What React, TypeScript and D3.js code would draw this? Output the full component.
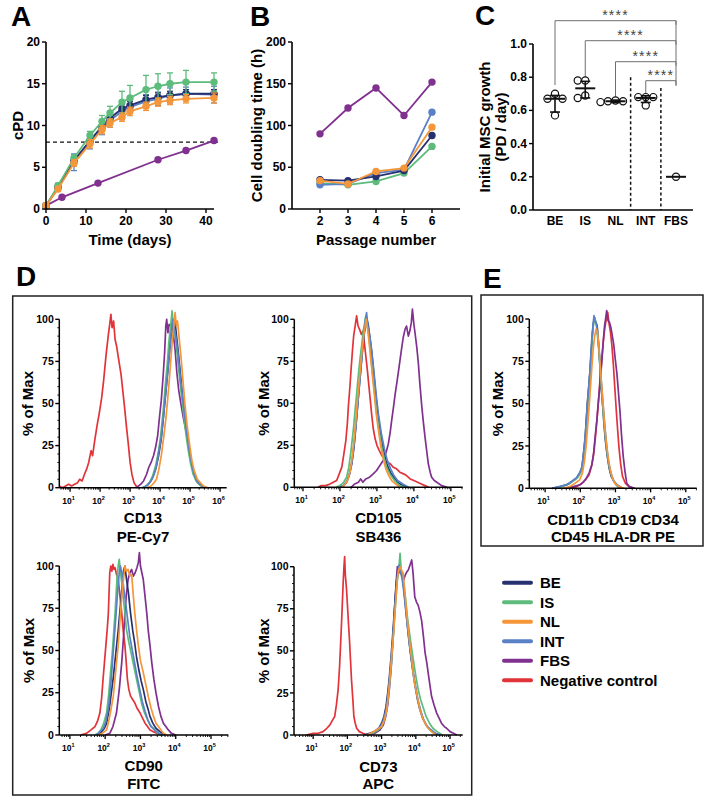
import React from "react";
import * as d3 from "d3";

const FONT = "'Liberation Sans', Arial, Helvetica, sans-serif";

const COL = {
  BE: "#27316f",
  IS: "#5dbb7b",
  NL: "#f5963a",
  INT: "#5a80c6",
  FBS: "#80308f",
  NEG: "#e1343a",
};

// ---------- panel A: cumulative population doublings ----------
const daysA = [0, 3, 7, 11, 14, 16, 19, 21, 25, 28, 31, 35, 42];
const cpdBE = [0.4, 2.6, 5.8, 8.2, 9.9, 10.9, 12.0, 12.4, 13.1, 13.4, 13.6, 13.8, 13.8];
const cpdIS = [0.4, 2.8, 6.1, 8.8, 10.5, 11.5, 12.8, 13.3, 14.3, 14.7, 15.0, 15.2, 15.2];
const cpdNL = [0.4, 2.4, 5.5, 7.8, 9.5, 10.3, 11.0, 11.7, 12.3, 12.8, 13.0, 13.2, 13.3];
const cpdINT = [0.4, 2.5, 5.6, 8.0, 9.7, 10.6, 11.7, 12.2, 12.9, 13.2, 13.6, 13.8, 13.7];
const sdBE = [0, 0.2, 0.4, 0.4, 0.4, 0.4, 0.5, 0.5, 0.5, 0.5, 0.5, 0.5, 0.5];
const sdIS = [0, 0.3, 0.4, 0.5, 0.7, 0.8, 1.3, 1.5, 1.7, 1.5, 1.3, 1.4, 1.1];
const sdNL = [0, 0.3, 0.4, 0.5, 0.5, 0.5, 0.5, 0.5, 0.5, 0.5, 0.5, 0.5, 0.6];
const sdINT = [0, 0.3, 1.0, 0.8, 0.8, 0.8, 1.0, 1.0, 0.8, 0.8, 0.9, 0.8, 1.0];
const daysFBS = [0, 4, 13, 28, 35, 42];
const cpdFBS = [0.4, 1.4, 3.1, 5.9, 7.0, 8.2];
const cpdThreshold = 8;

// ---------- panel B: doubling time per passage ----------
const passages = [2, 3, 4, 5, 6];
const dtBE = [35, 34, 39, 46, 88];
const dtIS = [31, 29, 33, 43, 75];
const dtNL = [34, 30, 45, 49, 98];
const dtINT = [29, 30, 43, 47, 116];
const dtFBS = [90, 121, 145, 112, 152];

// ---------- panel C: initial growth ----------
const groupsC = ["BE", "IS", "NL", "INT", "FBS"];
const growthBE = [0.70, 0.67, 0.67, 0.57];
const growthIS = [0.78, 0.78, 0.69, 0.675];
const growthNL = [0.655, 0.66, 0.655, 0.65];
const growthINT = [0.68, 0.68, 0.68, 0.63];
const growthFBS = [0.2];
const growthMid = [0.67, 0.733, 0.655, 0.675, 0.2];
const growthLo = [0.59, 0.675, 0.648, 0.648, 0.2];
const growthHi = [0.69, 0.775, 0.662, 0.688, 0.2];
const sigGroups = ["BE", "IS", "NL", "INT"];
const sigLabel = "****";

// ---------- panels D/E: flow histograms, [log10 intensity, % of max] ----------
type Pt = [number, number];

const cd13Neg: Pt[] = [[0.64,1],[0.75,0],[0.85,1],[0.95,2],[1.05,1],[1.15,2],[1.25,3],[1.32,5],[1.4,4],[1.48,8],[1.55,11],[1.62,15],[1.7,22],[1.75,19],[1.82,28],[1.9,37],[1.97,44],[2.05,53],[2.12,64],[2.2,79],[2.27,90],[2.32,97],[2.36,103],[2.4,95],[2.45,99],[2.5,88],[2.55,84],[2.62,76],[2.7,67],[2.76,57],[2.82,47],[2.88,36],[2.94,26],[3.0,15],[3.06,8],[3.13,3],[3.2,1],[3.3,0]];
const cd13FBS: Pt[] = [[3.2,0],[3.35,2],[3.45,4],[3.55,8],[3.62,12],[3.7,15],[3.78,19],[3.85,24],[3.92,31],[3.98,42],[4.04,52],[4.1,66],[4.15,80],[4.19,96],[4.22,100],[4.26,92],[4.3,97],[4.36,96],[4.43,93],[4.5,82],[4.56,68],[4.62,58],[4.7,49],[4.78,41],[4.86,34],[4.94,25],[5.02,17],[5.1,10],[5.2,5],[5.3,3],[5.4,1],[5.55,0]];
const cd13BE: Pt[] = [[3.4,0],[3.55,1],[3.65,3],[3.75,6],[3.85,11],[3.95,19],[4.03,28],[4.1,40],[4.18,55],[4.25,68],[4.32,82],[4.38,93],[4.42,99],[4.46,96],[4.5,98],[4.56,88],[4.62,78],[4.68,67],[4.75,54],[4.82,42],[4.9,31],[4.98,21],[5.06,13],[5.15,7],[5.25,3],[5.38,1],[5.5,0]];
const cd13IS: Pt[] = [[3.4,0],[3.55,1],[3.65,3],[3.75,7],[3.85,13],[3.95,22],[4.02,31],[4.1,45],[4.17,60],[4.24,74],[4.3,88],[4.35,96],[4.4,105],[4.44,97],[4.5,91],[4.56,81],[4.62,70],[4.7,57],[4.78,44],[4.86,32],[4.94,22],[5.02,14],[5.1,8],[5.2,4],[5.3,2],[5.45,0]];
const cd13INT: Pt[] = [[3.45,0],[3.6,2],[3.7,4],[3.8,8],[3.88,13],[3.96,22],[4.04,30],[4.12,44],[4.2,59],[4.28,74],[4.35,88],[4.4,97],[4.44,100],[4.48,94],[4.54,88],[4.6,79],[4.66,68],[4.72,58],[4.8,46],[4.88,34],[4.96,24],[5.04,15],[5.12,9],[5.22,4],[5.34,2],[5.5,0]];
const cd13NL: Pt[] = [[3.55,0],[3.7,1],[3.8,3],[3.88,5],[3.96,11],[4.04,19],[4.12,30],[4.2,42],[4.28,58],[4.34,72],[4.4,86],[4.45,95],[4.5,104],[4.54,96],[4.58,99],[4.64,88],[4.7,77],[4.76,64],[4.82,51],[4.9,37],[4.98,26],[5.06,16],[5.14,10],[5.24,5],[5.34,3],[5.45,1],[5.6,0]];

const cd105Neg: Pt[] = [[1.4,0],[1.5,1],[1.62,1],[1.73,2],[1.82,3],[1.91,4],[1.98,8],[2.05,12],[2.1,19],[2.16,28],[2.2,38],[2.23,49],[2.27,60],[2.3,70],[2.34,82],[2.37,90],[2.41,96],[2.45,102],[2.49,96],[2.53,94],[2.58,91],[2.62,93],[2.66,86],[2.7,78],[2.74,70],[2.78,61],[2.82,52],[2.86,43],[2.9,35],[2.95,29],[3.0,25],[3.06,22],[3.13,19],[3.2,17],[3.28,15],[3.36,14],[3.44,12],[3.53,11],[3.62,9],[3.72,8],[3.8,7],[3.9,5],[4.0,4],[4.1,3],[4.2,2],[4.3,1],[4.4,0]];
const cd105FBS: Pt[] = [[2.3,0],[2.4,2],[2.5,3],[2.56,5],[2.62,3],[2.7,5],[2.8,6],[2.9,8],[2.99,10],[3.08,13],[3.17,16],[3.25,21],[3.31,26],[3.36,33],[3.4,40],[3.45,48],[3.49,55],[3.55,64],[3.62,75],[3.67,83],[3.71,89],[3.76,94],[3.8,96],[3.85,90],[3.89,93],[3.93,98],[3.96,106],[4.0,97],[4.03,92],[4.08,83],[4.12,74],[4.16,62],[4.21,49],[4.25,40],[4.3,30],[4.35,21],[4.39,14],[4.44,9],[4.48,6],[4.55,4],[4.62,3],[4.75,1],[4.9,0]];
const cd105IS: Pt[] = [[1.9,0],[2.0,1],[2.1,3],[2.18,6],[2.24,12],[2.29,20],[2.32,26],[2.37,36],[2.41,46],[2.45,55],[2.49,65],[2.54,76],[2.59,85],[2.63,93],[2.67,98],[2.7,102],[2.74,96],[2.78,90],[2.81,84],[2.85,75],[2.9,64],[2.95,54],[2.99,45],[3.05,35],[3.13,24],[3.2,17],[3.26,12],[3.35,8],[3.44,5],[3.52,3],[3.62,1],[3.75,0]];
const cd105BE: Pt[] = [[2.0,0],[2.1,1],[2.18,3],[2.25,7],[2.32,14],[2.38,24],[2.43,36],[2.48,49],[2.53,62],[2.58,74],[2.62,84],[2.66,92],[2.7,97],[2.73,100],[2.77,96],[2.81,89],[2.86,80],[2.91,69],[2.96,57],[3.01,46],[3.07,36],[3.14,26],[3.21,19],[3.28,13],[3.36,9],[3.45,6],[3.55,3],[3.7,1],[3.85,0]];
const cd105INT: Pt[] = [[2.0,0],[2.1,1],[2.2,4],[2.27,9],[2.33,16],[2.39,27],[2.44,39],[2.49,52],[2.54,64],[2.58,75],[2.62,85],[2.66,94],[2.69,100],[2.72,104],[2.75,97],[2.79,92],[2.84,85],[2.89,75],[2.94,64],[2.99,53],[3.05,42],[3.12,32],[3.2,23],[3.28,16],[3.37,11],[3.46,7],[3.56,4],[3.7,2],[3.85,0]];
const cd105NL: Pt[] = [[2.05,0],[2.15,2],[2.22,5],[2.28,10],[2.33,18],[2.38,28],[2.43,40],[2.47,51],[2.52,63],[2.56,73],[2.6,82],[2.64,90],[2.68,96],[2.71,100],[2.75,94],[2.79,86],[2.83,77],[2.88,66],[2.93,55],[2.98,44],[3.04,34],[3.1,25],[3.17,17],[3.24,11],[3.32,7],[3.4,4],[3.5,2],[3.62,0]];

const cd90Neg: Pt[] = [[1.3,0],[1.47,1],[1.6,3],[1.71,5],[1.78,8],[1.85,13],[1.9,22],[1.94,33],[1.98,43],[2.02,53],[2.06,63],[2.09,72],[2.11,84],[2.13,96],[2.16,100],[2.19,97],[2.22,101],[2.25,98],[2.28,99],[2.32,95],[2.37,92],[2.42,82],[2.47,72],[2.51,62],[2.56,53],[2.6,42],[2.63,33],[2.67,27],[2.72,23],[2.78,21],[2.84,19],[2.9,16],[2.99,13],[3.06,10],[3.13,7],[3.2,5],[3.27,3],[3.36,2],[3.46,1],[3.6,0]];
const cd90IS: Pt[] = [[1.7,0],[1.8,1],[1.88,3],[1.96,7],[2.04,13],[2.1,24],[2.15,36],[2.2,48],[2.24,60],[2.28,72],[2.31,83],[2.34,94],[2.37,100],[2.4,104],[2.43,97],[2.47,90],[2.51,82],[2.56,72],[2.6,63],[2.67,55],[2.75,47],[2.82,40],[2.89,33],[2.96,26],[3.03,19],[3.1,14],[3.18,10],[3.27,6],[3.37,4],[3.48,1],[3.6,0]];
const cd90BE: Pt[] = [[1.8,0],[1.9,2],[1.98,4],[2.04,7],[2.12,16],[2.18,26],[2.23,34],[2.3,48],[2.37,62],[2.43,76],[2.48,88],[2.52,97],[2.56,100],[2.6,93],[2.66,84],[2.72,72],[2.78,62],[2.84,54],[2.89,46],[2.96,38],[3.02,32],[3.08,27],[3.15,20],[3.22,15],[3.27,11],[3.35,7],[3.44,4],[3.55,2],[3.7,0]];
const cd90INT: Pt[] = [[1.75,0],[1.85,2],[1.95,4],[2.02,8],[2.1,17],[2.16,30],[2.21,44],[2.26,58],[2.31,72],[2.35,84],[2.39,94],[2.43,100],[2.47,96],[2.52,88],[2.58,78],[2.64,68],[2.7,58],[2.77,50],[2.84,42],[2.91,34],[2.98,27],[3.05,20],[3.13,14],[3.21,9],[3.3,5],[3.4,3],[3.52,1],[3.65,0]];
const cd90NL: Pt[] = [[1.8,0],[1.92,1],[2.04,3],[2.12,10],[2.18,17],[2.23,23],[2.3,38],[2.37,53],[2.42,68],[2.47,82],[2.52,92],[2.56,100],[2.6,97],[2.65,98],[2.7,94],[2.75,95],[2.8,82],[2.84,72],[2.89,62],[2.94,53],[3.0,44],[3.08,37],[3.15,30],[3.22,23],[3.3,16],[3.37,11],[3.44,7],[3.51,5],[3.58,3],[3.65,1],[3.75,0]];
const cd90FBS: Pt[] = [[2.0,0],[2.13,1],[2.22,5],[2.32,13],[2.4,27],[2.47,43],[2.52,58],[2.56,72],[2.6,83],[2.65,92],[2.7,96],[2.75,98],[2.8,94],[2.85,96],[2.9,99],[2.94,102],[2.97,108],[3.0,100],[3.04,96],[3.08,92],[3.13,82],[3.18,72],[3.22,62],[3.27,53],[3.32,43],[3.38,33],[3.44,25],[3.51,17],[3.58,11],[3.65,7],[3.72,5],[3.79,3],[3.88,1],[4.0,0]];

const cd73Neg: Pt[] = [[0.8,0],[1.0,1],[1.15,1],[1.29,2],[1.4,4],[1.49,6],[1.57,9],[1.63,11],[1.68,18],[1.73,27],[1.77,40],[1.8,53],[1.83,67],[1.86,82],[1.88,92],[1.9,100],[1.92,106],[1.94,95],[1.97,88],[2.0,78],[2.03,67],[2.06,57],[2.09,45],[2.12,33],[2.16,21],[2.19,11],[2.23,7],[2.27,4],[2.35,2],[2.45,1],[2.6,0]];
const cd73BE: Pt[] = [[2.5,0],[2.65,1],[2.8,2],[2.92,4],[3.0,7],[3.07,11],[3.13,17],[3.18,25],[3.23,35],[3.28,47],[3.32,58],[3.36,70],[3.4,82],[3.44,92],[3.48,98],[3.52,100],[3.56,98],[3.6,95],[3.65,87],[3.7,77],[3.75,66],[3.8,56],[3.86,46],[3.92,37],[3.98,29],[4.05,21],[4.12,15],[4.2,10],[4.3,6],[4.42,3],[4.55,1],[4.7,0]];
const cd73IS: Pt[] = [[2.6,0],[2.75,1],[2.9,3],[3.0,5],[3.08,9],[3.15,16],[3.2,24],[3.25,34],[3.3,46],[3.34,58],[3.38,70],[3.42,82],[3.46,92],[3.5,98],[3.54,108],[3.57,99],[3.61,95],[3.66,88],[3.71,79],[3.76,69],[3.82,60],[3.88,51],[3.94,43],[4.0,35],[4.07,27],[4.14,21],[4.22,16],[4.3,11],[4.4,7],[4.5,4],[4.62,2],[4.78,0]];
const cd73INT: Pt[] = [[2.55,0],[2.7,1],[2.85,3],[2.96,5],[3.04,8],[3.11,13],[3.17,20],[3.22,30],[3.27,41],[3.31,52],[3.35,64],[3.39,76],[3.43,88],[3.47,96],[3.51,101],[3.55,97],[3.6,93],[3.65,85],[3.7,75],[3.76,64],[3.82,53],[3.88,44],[3.94,35],[4.0,28],[4.07,20],[4.15,14],[4.23,9],[4.33,5],[4.45,3],[4.58,1],[4.72,0]];
const cd73NL: Pt[] = [[2.6,0],[2.68,1],[2.85,3],[3.0,5],[3.08,9],[3.15,15],[3.2,24],[3.24,33],[3.28,43],[3.32,53],[3.36,63],[3.39,73],[3.43,84],[3.46,93],[3.5,98],[3.54,100],[3.58,98],[3.63,96],[3.68,85],[3.73,73],[3.78,63],[3.83,53],[3.88,45],[3.92,37],[3.97,30],[4.02,25],[4.07,20],[4.12,15],[4.2,10],[4.27,7],[4.36,4],[4.46,2],[4.58,0]];
const cd73FBS: Pt[] = [[2.6,0],[2.8,1],[2.95,3],[3.05,6],[3.12,11],[3.18,18],[3.23,28],[3.28,40],[3.32,53],[3.36,66],[3.39,79],[3.43,92],[3.46,100],[3.5,96],[3.55,98],[3.6,94],[3.64,92],[3.69,95],[3.74,97],[3.78,98],[3.83,101],[3.88,104],[3.92,96],[3.97,82],[4.02,79],[4.07,77],[4.12,73],[4.17,68],[4.22,59],[4.27,49],[4.32,43],[4.36,37],[4.41,30],[4.46,23],[4.53,18],[4.61,13],[4.68,10],[4.75,7],[4.83,5],[4.9,4],[5.0,2],[5.1,1],[5.2,0]];

const hemBE: Pt[] = [[1.2,0],[1.43,1],[1.6,2],[1.71,3],[1.82,5],[1.9,6],[1.98,9],[2.04,11],[2.09,20],[2.14,30],[2.17,40],[2.2,50],[2.24,60],[2.28,70],[2.31,80],[2.34,90],[2.37,97],[2.4,101],[2.44,98],[2.48,96],[2.51,88],[2.54,79],[2.57,68],[2.6,58],[2.64,48],[2.67,39],[2.71,29],[2.76,20],[2.82,12],[2.88,7],[2.96,4],[3.05,2],[3.2,0]];
const hemIS: Pt[] = [[1.3,0],[1.5,1],[1.7,3],[1.85,5],[1.95,7],[2.03,10],[2.1,19],[2.15,30],[2.19,42],[2.22,52],[2.26,63],[2.3,75],[2.33,86],[2.36,94],[2.39,99],[2.42,100],[2.46,96],[2.5,88],[2.54,78],[2.58,66],[2.62,54],[2.66,43],[2.7,33],[2.75,23],[2.81,14],[2.88,8],[2.96,4],[3.06,1],[3.2,0]];
const hemINT: Pt[] = [[1.2,0],[1.4,1],[1.6,2],[1.75,4],[1.88,6],[1.98,9],[2.05,13],[2.11,24],[2.15,34],[2.19,46],[2.23,57],[2.27,68],[2.3,79],[2.33,89],[2.36,96],[2.39,102],[2.42,99],[2.46,97],[2.5,90],[2.54,80],[2.58,68],[2.62,57],[2.66,46],[2.7,36],[2.75,25],[2.8,16],[2.86,10],[2.93,5],[3.02,2],[3.15,0]];
const hemNL: Pt[] = [[1.5,0],[1.7,1],[1.85,3],[1.98,5],[2.06,9],[2.12,16],[2.17,26],[2.21,37],[2.25,48],[2.29,60],[2.33,72],[2.37,83],[2.41,90],[2.45,94],[2.49,92],[2.53,83],[2.57,71],[2.61,60],[2.65,49],[2.69,38],[2.73,29],[2.78,20],[2.84,12],[2.9,7],[2.98,3],[3.1,1],[3.25,0]];
const hemFBS: Pt[] = [[1.6,0],[1.8,1],[1.99,2],[2.1,4],[2.17,6],[2.25,9],[2.33,14],[2.38,21],[2.42,30],[2.47,40],[2.51,50],[2.56,62],[2.61,74],[2.65,86],[2.69,96],[2.72,100],[2.75,105],[2.79,99],[2.83,98],[2.87,95],[2.91,90],[2.95,85],[2.99,77],[3.04,68],[3.08,58],[3.13,45],[3.17,32],[3.22,19],[3.27,10],[3.32,3],[3.4,1],[3.55,0]];
const hemNeg: Pt[] = [[1.7,0],[1.9,1],[2.05,3],[2.15,5],[2.25,8],[2.32,13],[2.38,20],[2.43,30],[2.48,42],[2.53,55],[2.57,67],[2.62,79],[2.66,88],[2.7,95],[2.74,100],[2.78,104],[2.82,97],[2.86,92],[2.9,84],[2.94,73],[2.98,60],[3.02,47],[3.06,35],[3.1,24],[3.15,14],[3.2,7],[3.28,3],[3.38,1],[3.5,0]];

const legendNames = ["BE", "IS", "NL", "INT", "FBS", "Negative control"];
const legendColors = [COL.BE, COL.IS, COL.NL, COL.INT, COL.FBS, COL.NEG];

// ---------------------------------------------------------------

const bold = { fontFamily: FONT, fontWeight: 700 } as const;

function PanelLetter({ x, y, t }: { x: number; y: number; t: string }) {
  return (
    <text x={x} y={y} style={bold} fontSize={28}>
      {t}
    </text>
  );
}

function Dot({ cx, cy, c }: { cx: number; cy: number; c: string }) {
  return <circle cx={cx} cy={cy} r={3.7} fill={c} />;
}

function PanelA() {
  const x = d3.scaleLinear().domain([0, 42]).range([46, 214]);
  const y = d3.scaleLinear().domain([0, 20]).range([209, 42]);
  const line = d3.line<[number, number]>().x((d) => x(d[0])).y((d) => y(d[1]));
  const series = [
    { v: cpdINT, sd: sdINT, c: COL.INT },
    { v: cpdBE, sd: sdBE, c: COL.BE },
    { v: cpdIS, sd: sdIS, c: COL.IS },
    { v: cpdNL, sd: sdNL, c: COL.NL },
  ];
  const fbsPts = daysFBS.map((d, i) => [d, cpdFBS[i]] as [number, number]);
  return (
    <g>
      <PanelLetter x={11} y={26} t="A" />
      <line x1={x(0)} x2={x(43)} y1={y(cpdThreshold)} y2={y(cpdThreshold)} stroke="#111" strokeWidth={1.2} strokeDasharray="4,3" />
      <path d={line(fbsPts) || ""} fill="none" stroke={COL.FBS} strokeWidth={1.8} />
      {fbsPts.map((p, i) => (
        <Dot key={i} cx={x(p[0])} cy={y(p[1])} c={COL.FBS} />
      ))}
      {series.map((s, si) => {
        const pts = daysA.map((d, i) => [d, s.v[i]] as [number, number]);
        return (
          <g key={si}>
            {pts.map((p, i) =>
              s.sd[i] > 0 ? (
                <g key={i} stroke={s.c} strokeWidth={1.3}>
                  <line x1={x(p[0])} x2={x(p[0])} y1={y(p[1] - s.sd[i])} y2={y(p[1] + s.sd[i])} />
                  <line x1={x(p[0]) - 3} x2={x(p[0]) + 3} y1={y(p[1] + s.sd[i])} y2={y(p[1] + s.sd[i])} />
                  <line x1={x(p[0]) - 3} x2={x(p[0]) + 3} y1={y(p[1] - s.sd[i])} y2={y(p[1] - s.sd[i])} />
                </g>
              ) : null
            )}
            <path d={line(pts) || ""} fill="none" stroke={s.c} strokeWidth={1.8} />
            {pts.map((p, i) => (
              <Dot key={i} cx={x(p[0])} cy={y(p[1])} c={s.c} />
            ))}
          </g>
        );
      })}
      {/* axes */}
      <line x1={46} x2={46} y1={42} y2={209} stroke="#000" strokeWidth={1.6} />
      <line x1={46} x2={214} y1={209} y2={209} stroke="#000" strokeWidth={1.6} />
      {y.ticks(4).map((t) => (
        <g key={t}>
          <line x1={42} x2={46} y1={y(t)} y2={y(t)} stroke="#000" strokeWidth={1.4} />
          <text x={40} y={y(t) + 4} textAnchor="end" style={bold} fontSize={12}>
            {t}
          </text>
        </g>
      ))}
      {[0, 10, 20, 30, 40].map((t) => (
        <g key={t}>
          <line x1={x(t)} x2={x(t)} y1={209} y2={213} stroke="#000" strokeWidth={1.4} />
          <text x={x(t)} y={225} textAnchor="middle" style={bold} fontSize={12}>
            {t}
          </text>
        </g>
      ))}
      <text x={130} y={245} textAnchor="middle" style={bold} fontSize={15}>
        Time (days)
      </text>
      <text transform={`translate(23,125.5) rotate(-90)`} textAnchor="middle" style={bold} fontSize={15}>
        cPD
      </text>
    </g>
  );
}

function PanelB() {
  const x = d3.scaleLinear().domain([1, 7]).range([292, 460]);
  const y = d3.scaleLinear().domain([0, 200]).range([209, 42]);
  const line = d3.line<number>().x((_, i) => x(passages[i])).y((d) => y(d));
  const series = [
    { v: dtFBS, c: COL.FBS },
    { v: dtIS, c: COL.IS },
    { v: dtINT, c: COL.INT },
    { v: dtBE, c: COL.BE },
    { v: dtNL, c: COL.NL },
  ];
  return (
    <g>
      <PanelLetter x={250} y={26} t="B" />
      {series.map((s, si) => (
        <g key={si}>
          <path d={line(s.v) || ""} fill="none" stroke={s.c} strokeWidth={1.8} />
          {s.v.map((v, i) => (
            <Dot key={i} cx={x(passages[i])} cy={y(v)} c={s.c} />
          ))}
        </g>
      ))}
      <line x1={292} x2={292} y1={42} y2={209} stroke="#000" strokeWidth={1.6} />
      <line x1={292} x2={460} y1={209} y2={209} stroke="#000" strokeWidth={1.6} />
      {y.ticks(4).map((t) => (
        <g key={t}>
          <line x1={288} x2={292} y1={y(t)} y2={y(t)} stroke="#000" strokeWidth={1.4} />
          <text x={286} y={y(t) + 4} textAnchor="end" style={bold} fontSize={12}>
            {t}
          </text>
        </g>
      ))}
      {passages.map((t) => (
        <g key={t}>
          <line x1={x(t)} x2={x(t)} y1={209} y2={213} stroke="#000" strokeWidth={1.4} />
          <text x={x(t)} y={225} textAnchor="middle" style={bold} fontSize={12}>
            {t}
          </text>
        </g>
      ))}
      <text x={376} y={245} textAnchor="middle" style={bold} fontSize={15}>
        Passage number
      </text>
      <text transform={`translate(262,125.5) rotate(-90)`} textAnchor="middle" style={bold} fontSize={15}>
        Cell doubling time (h)
      </text>
    </g>
  );
}

function swarm(vals: number[], y: (v: number) => number) {
  const placed: { dx: number; cy: number }[] = [];
  const order = vals.map((v, i) => i).sort((a, b) => vals[b] - vals[a]);
  const out: number[] = new Array(vals.length).fill(0);
  const cands = [0, -7.5, 7.5, -15, 15];
  order.forEach((i) => {
    const cy = y(vals[i]);
    const dx = cands.find((c) => placed.every((p) => Math.hypot(p.dx - c, p.cy - cy) >= 7.2)) ?? 0;
    placed.push({ dx, cy });
    out[i] = dx;
  });
  return out;
}

function PanelC() {
  const x = d3.scalePoint<string>().domain(groupsC).range([555, 676]);
  const y = d3.scaleLinear().domain([0, 1]).range([210, 44]);
  const groupVals = [growthBE, growthIS, growthNL, growthINT, growthFBS];
  const fx = x("FBS") as number;
  const bracketY = [20.7, 40.7, 61.7, 80.7];
  const legBottom = [85, 78, 100, 93];
  const step = x.step();
  return (
    <g>
      <PanelLetter x={475} y={25} t="C" />
      {/* significance brackets */}
      {sigGroups.map((g, i) => {
        const gx = x(g) as number;
        return (
          <g key={g}>
            <path
              d={`M${gx},${legBottom[i]}V${bracketY[i]}H${fx}V${bracketY[i] + 4}`}
              fill="none"
              stroke="#6f6f6f"
              strokeWidth={1}
            />
            <text x={(gx + fx) / 2} y={bracketY[i] - 0.5} textAnchor="middle" fontFamily={FONT} fontSize={14} letterSpacing={1.2} fill="#444">
              {sigLabel}
            </text>
          </g>
        );
      })}
      <line x1={fx} x2={fx} y1={bracketY[0]} y2={86} stroke="#6f6f6f" strokeWidth={1} />
      {/* dashed separators */}
      <line x1={(x("NL") as number) + step / 2} x2={(x("NL") as number) + step / 2} y1={y(0.8)} y2={210} stroke="#111" strokeWidth={1.5} strokeDasharray="3,2.5" />
      <line x1={(x("INT") as number) + step / 2} x2={(x("INT") as number) + step / 2} y1={y(0.735)} y2={210} stroke="#111" strokeWidth={1.5} strokeDasharray="3,2.5" />
      {groupsC.map((g, gi) => {
        const cx = x(g) as number;
        const offs = swarm(groupVals[gi], y);
        return (
          <g key={g}>
            {groupVals[gi].map((v, i) => (
              <circle key={i} cx={cx + offs[i]} cy={y(v)} r={3.6} fill="#fff" stroke="#111" strokeWidth={1.2} />
            ))}
            <line x1={cx - 10} x2={cx + 10} y1={y(growthMid[gi])} y2={y(growthMid[gi])} stroke="#111" strokeWidth={2} />
            {growthHi[gi] > growthLo[gi] && (
              <g stroke="#111" strokeWidth={1.6}>
                <line x1={cx} x2={cx} y1={y(growthLo[gi])} y2={y(growthHi[gi])} />
                <line x1={cx - 5} x2={cx + 5} y1={y(growthLo[gi])} y2={y(growthLo[gi])} />
                <line x1={cx - 5} x2={cx + 5} y1={y(growthHi[gi])} y2={y(growthHi[gi])} />
              </g>
            )}
            <text x={cx} y={225} textAnchor="middle" style={bold} fontSize={12}>
              {g}
            </text>
          </g>
        );
      })}
      <line x1={533} x2={533} y1={44} y2={210} stroke="#000" strokeWidth={1.6} />
      <line x1={533} x2={693} y1={210} y2={210} stroke="#000" strokeWidth={1.6} />
      {y.ticks(5).map((t) => (
        <g key={t}>
          <line x1={529} x2={533} y1={y(t)} y2={y(t)} stroke="#000" strokeWidth={1.4} />
          <text x={527} y={y(t) + 4} textAnchor="end" style={bold} fontSize={12}>
            {t.toFixed(1)}
          </text>
        </g>
      ))}
      <text transform={`translate(490,127) rotate(-90)`} textAnchor="middle" style={bold} fontSize={15}>
        Initial MSC growth
      </text>
      <text transform={`translate(506,127) rotate(-90)`} textAnchor="middle" style={bold} fontSize={15}>
        (PD / day)
      </text>
    </g>
  );
}

type Curve = { pts: Pt[]; c: string };

function Hist(props: {
  x0: number;
  x1: number;
  yb: number;
  yt: number;
  lo: number;
  hi: number;
  curves: Curve[];
  title: string[];
  titleY: number[];
  ylabX: number;
}) {
  const { x0, x1, yb, yt, lo, hi, curves, title, titleY, ylabX } = props;
  const xs = d3.scaleLog().domain([10 ** lo, 10 ** hi]).range([x0, x1]);
  const ys = d3.scaleLinear().domain([0, 100]).range([yb, yt]);
  const line = d3.line<Pt>().x((d) => xs(10 ** d[0])).y((d) => ys(d[1]));
  const majors = d3.range(Math.ceil(lo), Math.floor(hi) + 1);
  const minors: number[] = [];
  for (let k = Math.floor(lo); k <= Math.floor(hi); k++)
    for (let m = 2; m <= 9; m++) {
      const v = m * 10 ** k;
      if (v > 10 ** lo && v < 10 ** hi) minors.push(v);
    }
  const cx = (x0 + x1) / 2;
  return (
    <g>
      {curves.map((cv, i) => (
        <path key={i} d={line(cv.pts) || ""} fill="none" stroke={cv.c} strokeWidth={1.7} strokeLinejoin="round" />
      ))}
      <line x1={x0} x2={x0} y1={yt} y2={yb} stroke="#000" strokeWidth={1.5} />
      <line x1={x0} x2={x1} y1={yb} y2={yb} stroke="#000" strokeWidth={1.5} />
      {d3.range(0, 101, 5).map((t) => (
        <line key={t} x1={x0 - (t % 25 === 0 ? 4 : 2)} x2={x0} y1={ys(t)} y2={ys(t)} stroke="#000" strokeWidth={t % 25 === 0 ? 1.4 : 0.9} />
      ))}
      {[0, 25, 50, 75, 100].map((t) => (
        <text key={t} x={x0 - 5.5} y={ys(t) + 3.6} textAnchor="end" style={bold} fontSize={10.5}>
          {t}
        </text>
      ))}
      {minors.map((v, i) => (
        <line key={i} x1={xs(v)} x2={xs(v)} y1={yb} y2={yb + 2} stroke="#000" strokeWidth={0.9} />
      ))}
      {majors.map((k) => (
        <g key={k}>
          <line x1={xs(10 ** k)} x2={xs(10 ** k)} y1={yb} y2={yb + 4} stroke="#000" strokeWidth={1.3} />
          <text x={xs(10 ** k) - 1.5} y={yb + 16} textAnchor="middle" fontFamily={FONT} fontWeight={700} fontSize={8.5}>
            10
            <tspan dy={-4} fontSize={5.5}>
              {k}
            </tspan>
          </text>
        </g>
      ))}
      <text transform={`translate(${ylabX},${(yt + yb) / 2}) rotate(-90)`} textAnchor="middle" style={bold} fontSize={15}>
        % of Max
      </text>
      {title.map((t, i) => (
        <text key={i} x={cx} y={titleY[i]} textAnchor="middle" style={bold} fontSize={15}>
          {t}
        </text>
      ))}
    </g>
  );
}

const set = (neg: Pt[], fbs: Pt[], be: Pt[], is: Pt[], int: Pt[], nl: Pt[]): Curve[] => [
  { pts: neg, c: COL.NEG },
  { pts: fbs, c: COL.FBS },
  { pts: be, c: COL.BE },
  { pts: is, c: COL.IS },
  { pts: int, c: COL.INT },
  { pts: nl, c: COL.NL },
];

function PanelsDE() {
  return (
    <g>
      <PanelLetter x={16} y={286} t="D" />
      <rect x={12.7} y={296} width={459} height={499} fill="none" stroke="#222" strokeWidth={1.5} />
      <Hist x0={59.3} x1={226.7} yb={487.7} yt={319.3} lo={0.64} hi={6.22}
        curves={set(cd13Neg, cd13FBS, cd13BE, cd13IS, cd13INT, cd13NL)}
        title={["CD13", "PE-Cy7"]} titleY={[523, 542]} ylabX={33} />
      <Hist x0={294.3} x1={462.7} yb={487.3} yt={319.3} lo={0.765} hi={5.32}
        curves={set(cd105Neg, cd105FBS, cd105BE, cd105IS, cd105INT, cd105NL)}
        title={["CD105", "SB436"]} titleY={[523, 542]} ylabX={269} />
      <Hist x0={59.3} x1={228.3} yb={735} yt={566} lo={0.7} hi={5.49}
        curves={set(cd90Neg, cd90FBS, cd90BE, cd90IS, cd90INT, cd90NL)}
        title={["CD90", "FITC"]} titleY={[771, 789]} ylabX={34} />
      <Hist x0={294} x1={462.7} yb={735} yt={566.7} lo={0.44} hi={5.37}
        curves={set(cd73Neg, cd73FBS, cd73BE, cd73IS, cd73INT, cd73NL)}
        title={["CD73", "APC"]} titleY={[772, 789]} ylabX={269} />

      <PanelLetter x={483} y={288} t="E" />
      <rect x={481} y={295} width={222} height={251} fill="none" stroke="#222" strokeWidth={1.5} />
      <Hist x0={529.3} x1={696.7} yb={488.3} yt={319} lo={0.55} hi={5.31}
        curves={set(hemNeg, hemFBS, hemBE, hemIS, hemINT, hemNL)}
        title={["CD11b CD19 CD34", "CD45 HLA-DR PE"]} titleY={[525, 542]} ylabX={503} />

      {legendNames.map((n, i) => {
        const ly = 582.7 + i * 19.5;
        return (
          <g key={n}>
            <line x1={504} x2={531} y1={ly} y2={ly} stroke={legendColors[i]} strokeWidth={4} strokeLinecap="round" />
            <text x={540} y={ly + 5.5} style={bold} fontSize={15}>
              {n}
            </text>
          </g>
        );
      })}
    </g>
  );
}

export default function App() {
  return (
    <svg
      width={708}
      height={800}
      viewBox="0 0 708 800"
      style={{ position: "absolute", left: 0, top: 0, background: "#fff" }}
    >
      <rect width={708} height={800} fill="#fff" />
      <PanelA />
      <PanelB />
      <PanelC />
      <PanelsDE />
    </svg>
  );
}
